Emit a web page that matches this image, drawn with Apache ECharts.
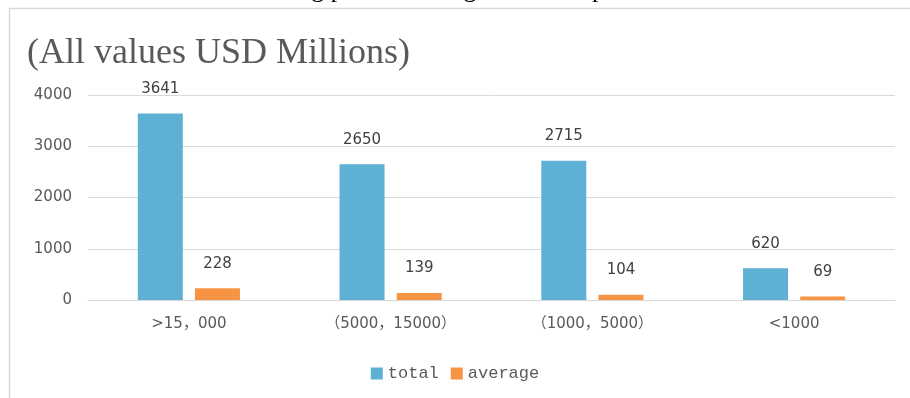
<!DOCTYPE html>
<html>
<head>
<meta charset="utf-8">
<script src="https://cdn.jsdelivr.net/npm/echarts@6/dist/echarts.min.js"></script>
<style>
  html, body { margin: 0; padding: 0; background: #fff; }
  #chart { width: 910px; height: 398px; }
</style>
</head>
<body>
<div id="chart"></div>
<script>
// Size bands of the companies
const categories = ['>15，000', '（5000，15000）', '（1000，5000）', '<1000'];
// Funding totals and averages per band (USD millions)
const totalValues = [3641, 2650, 2715, 620];
const averageValues = [228, 139, 104, 69];
// Value axis ticks
const yMin = 0;
const yMax = 4000;
const yStep = 1000;

const chart = echarts.init(document.getElementById('chart'));

const labelStyle = {
  show: true,
  position: 'top',
  distance: 17,
  color: '#404040',
  fontFamily: 'DejaVu Sans',
  fontSize: 15
};

chart.setOption({
  animation: false,
  backgroundColor: '#fff',
  graphic: [
    {
      type: 'text',
      left: 200,
      top: -23,
      silent: true,
      style: {
        text: 'Fundraising per Size Range and Group',
        fontFamily: 'Liberation Serif',
        fontSize: 26,
        fill: '#000'
      }
    },
    {
      type: 'rect',
      silent: true,
      shape: { x: 9.5, y: 8.5, width: 920, height: 420 },
      style: { fill: '#fff', stroke: '#d9d9d9', lineWidth: 1.5 }
    },
    {
      type: 'text',
      left: 27,
      top: 36,
      silent: true,
      style: {
        text: '(All values USD Millions)',
        fontFamily: 'Liberation Serif',
        fontSize: 36,
        fill: '#595959'
      }
    }
  ],
  legend: {
    bottom: 11,
    left: 'center',
    itemWidth: 12,
    itemHeight: 12,
    itemGap: 12,
    icon: 'rect',
    textStyle: { color: '#595959', fontFamily: 'Liberation Mono', fontSize: 17 },
    data: ['total', 'average']
  },
  grid: { left: 88, right: 15, top: 95, bottom: 98, containLabel: false },
  xAxis: {
    type: 'category',
    data: categories,
    axisLine: { lineStyle: { color: '#d9d9d9', width: 1 } },
    axisTick: { show: false },
    axisLabel: {
      color: '#595959',
      fontFamily: 'DejaVu Sans, Noto Sans CJK SC',
      fontSize: 15,
      margin: 17
    }
  },
  yAxis: {
    type: 'value',
    min: yMin,
    max: yMax,
    interval: yStep,
    axisLine: { show: false },
    axisTick: { show: false },
    axisLabel: {
      color: '#595959',
      fontFamily: 'DejaVu Sans',
      fontSize: 15,
      margin: 16,
      formatter: (v) => String(v)
    },
    splitLine: { lineStyle: { color: '#d9d9d9', width: 1 } }
  },
  series: [
    {
      name: 'total',
      type: 'bar',
      data: totalValues,
      barWidth: 45,
      barGap: '27%',
      itemStyle: { color: '#5eb0d4' },
      label: labelStyle
    },
    {
      name: 'average',
      type: 'bar',
      data: averageValues,
      barWidth: 45,
      itemStyle: { color: '#f79443' },
      label: labelStyle
    }
  ]
});
</script>
</body>
</html>
